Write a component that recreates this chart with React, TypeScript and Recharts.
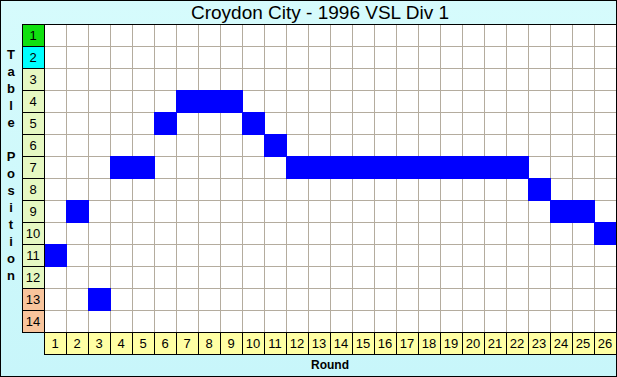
import React from 'react';
import { ComposedChart, XAxis, YAxis, ReferenceArea, CartesianGrid, Line } from 'recharts';

const title = 'Croydon City - 1996 VSL Div 1';
const xTitle = 'Round';
const yTitle = 'Table Position';
const rounds = [1, 2, 3, 4, 5, 6, 7, 8, 9, 10, 11, 12, 13, 14, 15, 16, 17, 18, 19, 20, 21, 22, 23, 24, 25, 26];
const positions = [11, 9, 13, 7, 7, 5, 4, 4, 4, 5, 6, 7, 7, 7, 7, 7, 7, 7, 7, 7, 7, 7, 8, 9, 9, 10];
const positionTicks = [1, 2, 3, 4, 5, 6, 7, 8, 9, 10, 11, 12, 13, 14];

const W = 617;
const H = 377;
const CELL = 22;
const FONT = '"Liberation Sans", Arial, sans-serif';

const data = rounds.map((r, i) => ({ round: r, pos: positions[i] }));
const xBounds = [...rounds.map((r) => r - 0.5), rounds[rounds.length - 1] + 0.5];
const yBounds = [...positionTicks.map((p) => p - 0.5), positionTicks[positionTicks.length - 1] + 0.5];
const xDomain: [number, number] = [xBounds[0], xBounds[xBounds.length - 1]];
const yDomain: [number, number] = [yBounds[0], yBounds[yBounds.length - 1]];

const rowColor = (p: number) => {
  if (p === 1) return '#10e010';
  if (p === 2) return '#00ffff';
  if (p >= 13) return '#f8c49c';
  return '#e6f8c2';
};

const scaleOf = (axis: any) => {
  const s = axis && axis.scale;
  if (typeof s === 'function') return s;
  if (s && typeof s.map === 'function') return (v: number) => s.map(v);
  return null;
};

const vGen = (p: any) => {
  const s = scaleOf(p.xAxis);
  if (s) return xBounds.map((b) => s(b));
  const o = p.offset;
  return xBounds.map((b) => o.left + ((b - xDomain[0]) / (xDomain[1] - xDomain[0])) * o.width);
};

const hGen = (p: any) => {
  const s = scaleOf(p.yAxis);
  if (s) return yBounds.map((b) => s(b));
  const o = p.offset;
  return yBounds.map((b) => o.top + ((b - yDomain[0]) / (yDomain[1] - yDomain[0])) * o.height);
};

const YTick = (props: any) => {
  const { x, y, payload } = props;
  const v = payload.value;
  return (
    <g>
      <rect x={x - CELL} y={y - CELL / 2} width={CELL} height={CELL} fill={rowColor(v)} stroke="#000" strokeWidth={1} shapeRendering="crispEdges" />
      <text x={x - CELL / 2} y={y + 5} textAnchor="middle" fontSize={13} fontFamily={FONT} fill="#000">
        {v}
      </text>
    </g>
  );
};

const XTick = (props: any) => {
  const { x, y, payload } = props;
  const v = payload.value;
  return (
    <g>
      <rect x={x - CELL / 2} y={y} width={CELL} height={CELL} fill="#ffffa4" stroke="#000" strokeWidth={1} shapeRendering="crispEdges" />
      <text x={x} y={y + CELL / 2 + 5} textAnchor="middle" fontSize={13} fontFamily={FONT} fill="#000">
        {v}
      </text>
    </g>
  );
};

export default function App() {
  const letters = yTitle.split('');
  return (
    <div
      style={{
        position: 'absolute',
        left: 0,
        top: 0,
        width: W,
        height: H,
        background: 'linear-gradient(180deg, #d6fbfc 0%, #c8f6fa 100%)',
      }}
    >
      <ComposedChart
        width={W}
        height={H}
        data={data}
        margin={{ top: 24, left: 22, right: 1, bottom: 23 }}
      >
        <CartesianGrid
          fill="#ffffff"
          stroke="#b4ac9e"
          strokeWidth={1}
          shapeRendering="crispEdges"
          verticalCoordinatesGenerator={vGen}
          horizontalCoordinatesGenerator={hGen}
        />
        <XAxis
          dataKey="round"
          type="number"
          domain={xDomain}
          ticks={rounds}
          interval={0}
          height={CELL}
          tickSize={0}
          tickMargin={0}
          axisLine={false}
          tickLine={false}
          tick={<XTick />}
        />
        <YAxis
          type="number"
          domain={yDomain}
          ticks={positionTicks}
          interval={0}
          reversed
          width={CELL}
          tickSize={0}
          tickMargin={0}
          axisLine={false}
          tickLine={false}
          tick={<YTick />}
        />
        {data.map((d) => (
          <ReferenceArea
            key={d.round}
            x1={d.round - 0.5}
            x2={d.round + 0.5}
            y1={d.pos - 0.5}
            y2={d.pos + 0.5}
            fill="#0000ff"
            fillOpacity={1}
            stroke="#0000ff"
            strokeWidth={1}
            shapeRendering="crispEdges"
          />
        ))}
        <ReferenceArea
          x1={xDomain[0]}
          x2={xDomain[1]}
          y1={yDomain[0]}
          y2={yDomain[1]}
          fill="none"
          stroke="#000"
          strokeWidth={1}
          shapeRendering="crispEdges"
        />
        <Line dataKey="pos" stroke="none" dot={false} activeDot={false} isAnimationActive={false} />
      </ComposedChart>
      <svg width={W} height={H} style={{ position: 'absolute', left: 0, top: 0, pointerEvents: 'none' }}>
        <text x={320} y={19} textAnchor="middle" fontSize={19} fontFamily={FONT} fill="#000">
          {title}
        </text>
        <text x={330} y={369} textAnchor="middle" fontSize={12} fontWeight="bold" fontFamily={FONT} fill="#000">
          {xTitle}
        </text>
        {letters.map((c, i) =>
          c === ' ' ? null : (
            <text key={i} x={11} y={54 + i * 17 + 5} textAnchor="middle" fontSize={13} fontWeight="bold" fontFamily={FONT} fill="#000">
              {c}
            </text>
          )
        )}
        <rect x={0.5} y={0.5} width={W - 1} height={H - 1} fill="none" stroke="#000" strokeWidth={1} />
      </svg>
    </div>
  );
}
